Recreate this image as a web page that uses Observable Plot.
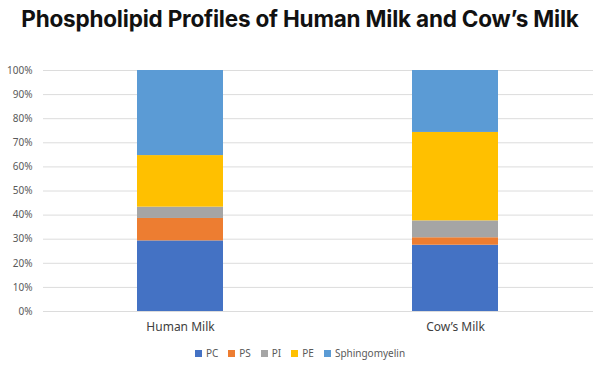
<!DOCTYPE html>
<html>
<head>
<meta charset="utf-8">
<script src="https://cdn.jsdelivr.net/npm/d3@7"></script>
<script src="https://cdn.jsdelivr.net/npm/@observablehq/plot@0.6"></script>
<style>
  html, body { margin: 0; padding: 0; background: #fff; }
  #wrap { width: 600px; height: 372px; position: relative; overflow: hidden; }
  #title { position: absolute; top: 5px; left: 0; width: 600px; text-align: center;
    font-family: Inter, "Noto Sans", sans-serif; font-weight: 700; font-size: 22.5px; color: #111; letter-spacing: -0.2px; }
  #chart { position: absolute; top: 45px; left: 0; }
  #legend { position: absolute; top: 346px; left: 0; width: 600px; display: flex; justify-content: center; gap: 10px;
    font-family: "Noto Sans", sans-serif; font-size: 10px; color: #595959; }
  .item { display: flex; align-items: center; gap: 4px; }
  .sw { width: 7px; height: 7px; display: inline-block; }
</style>
</head>
<body>
<div id="wrap">
  <div id="title">Phospholipid Profiles of Human Milk and Cow’s Milk</div>
  <div id="chart"></div>
  <div id="legend"></div>
</div>
<script>
const milks = ["Human Milk", "Cow’s Milk"];
const components = ["PC", "PS", "PI", "PE", "Sphingomyelin"];
const humanValues = [29.3, 9.3, 4.7, 21.4, 35.3];
const cowValues = [27.5, 3.1, 7.0, 36.7, 25.7];
const yTicks = [0, 10, 20, 30, 40, 50, 60, 70, 80, 90, 100];
const colors = ["#4472C4", "#ED7D31", "#A5A5A5", "#FFC000", "#5B9BD5"];

const data = [];
components.forEach((c, i) => {
  data.push({milk: milks[0], component: c, value: humanValues[i]});
  data.push({milk: milks[1], component: c, value: cowValues[i]});
});

const chart = Plot.plot({
  width: 600,
  height: 295,
  marginLeft: 43,
  marginRight: 7,
  marginTop: 25,
  marginBottom: 29,
  style: {fontFamily: "'Noto Sans', sans-serif", background: "transparent"},
  x: {domain: milks, paddingInner: 0.687, paddingOuter: 0.3435, label: null},
  y: {domain: [0, 100], label: null},
  color: {domain: components, range: colors},
  marks: [
    Plot.gridY(yTicks, {stroke: "#dcdcdc", strokeOpacity: 1, strokeWidth: 1}),
    Plot.axisY({ticks: yTicks, tickSize: 0, tickPadding: 11, tickFormat: d => d + "%", fontSize: 10, fill: "#595959", label: null}),
    Plot.axisX({tickSize: 0, tickPadding: 11, fontSize: 12, fill: "#404040", label: null}),
    Plot.barY(data, {x: "milk", y: "value", fill: "component", order: components})
  ]
});
document.getElementById("chart").appendChild(chart);

const legend = document.getElementById("legend");
components.forEach((c, i) => {
  const it = document.createElement("span");
  it.className = "item";
  const sw = document.createElement("span");
  sw.className = "sw";
  sw.style.background = colors[i];
  it.appendChild(sw);
  it.appendChild(document.createTextNode(c));
  legend.appendChild(it);
});
</script>
</body>
</html>
